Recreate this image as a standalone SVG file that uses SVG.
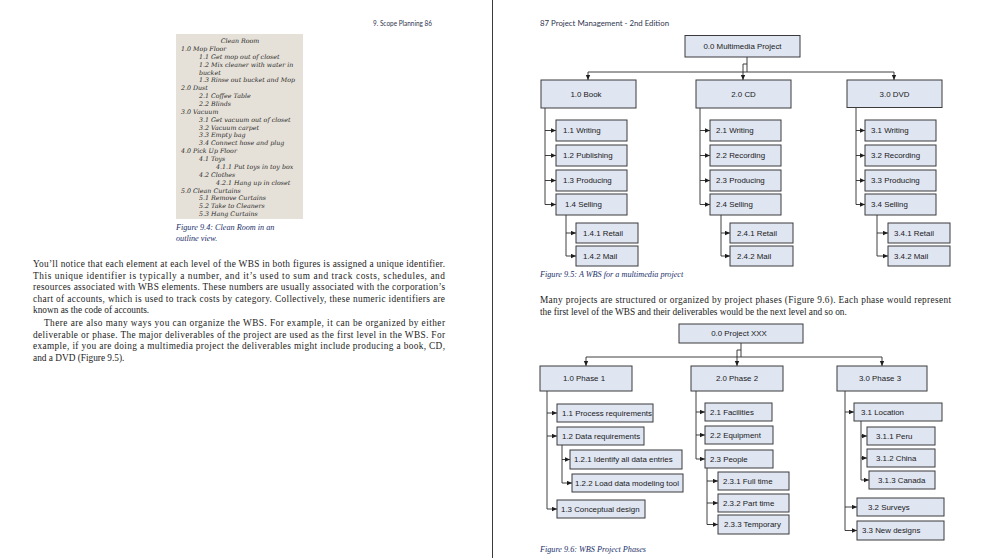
<svg xmlns="http://www.w3.org/2000/svg" width="992" height="558" viewBox="0 0 992 558">
<defs>
<marker id="ah" markerUnits="userSpaceOnUse" markerWidth="6" markerHeight="6" refX="5" refY="2.5" orient="auto">
<path d="M0,0.3 L5,2.5 L0,4.7 z" fill="#1e1e1e"/>
</marker>
<style>
.page{fill:#ffffff}
.hdr{font-family:Lato,"Open Sans",sans-serif;font-size:7.4px;fill:#2f3650}
.body{font-family:"Liberation Serif","Times New Roman",serif;font-size:9.3px;fill:#1c1c1c}
.cap{font-family:"Liberation Serif","Times New Roman",serif;font-style:italic;font-size:8.2px;fill:#22306a}
.hand{font-family:"DejaVu Serif","Liberation Serif",serif;font-style:italic;font-size:6.3px;fill:#2a2a2a}
.box{fill:#dfe5f1;stroke:#3a3a3a;stroke-width:1}
.lbl{font-family:"Liberation Sans",Arial,sans-serif;font-size:7.9px;fill:#1a1a1a}
.mid{text-anchor:middle}
.conn{fill:none;stroke:#2a2a2a;stroke-width:0.9}
.arr{marker-end:url(#ah)}
</style>
</defs>
<rect class="page" x="0" y="0" width="992" height="558"/>
<line x1="492.5" y1="0" x2="492.5" y2="558" stroke="#3a3a3a" stroke-width="1"/>

<!-- LEFT PAGE -->
<text class="hdr" x="373" y="25.5" textLength="59" lengthAdjust="spacingAndGlyphs">9. Scope Planning  86</text>

<g id="fig94">
<rect x="176" y="34" width="127" height="185" fill="#e6e1d8"/>
<text class="hand mid" x="240" y="43">Clean Room</text>
<text class="hand" x="181" y="50.9">1.0 Mop Floor</text>
<text class="hand" x="199" y="58.7">1.1 Get mop out of closet</text>
<text class="hand" x="199" y="66.6">1.2 Mix cleaner with water in</text>
<text class="hand" x="199" y="74.5">bucket</text>
<text class="hand" x="199" y="82.4">1.3 Rinse out bucket and Mop</text>
<text class="hand" x="181" y="90.2">2.0 Dust</text>
<text class="hand" x="199" y="98.1">2.1 Coffee Table</text>
<text class="hand" x="199" y="106">2.2 Blinds</text>
<text class="hand" x="181" y="113.8">3.0 Vacuum</text>
<text class="hand" x="199" y="121.7">3.1 Get vacuum out of closet</text>
<text class="hand" x="199" y="129.6">3.2 Vacuum carpet</text>
<text class="hand" x="199" y="137.4">3.3 Empty bag</text>
<text class="hand" x="199" y="145.3">3.4 Connect hose and plug</text>
<text class="hand" x="181" y="153.2">4.0 Pick Up Floor</text>
<text class="hand" x="199" y="161.1">4.1 Toys</text>
<text class="hand" x="216" y="168.9">4.1.1 Put toys in toy box</text>
<text class="hand" x="199" y="176.8">4.2 Clothes</text>
<text class="hand" x="216" y="184.7">4.2.1 Hang up in closet</text>
<text class="hand" x="181" y="192.5">5.0 Clean Curtains</text>
<text class="hand" x="199" y="200.4">5.1 Remove Curtains</text>
<text class="hand" x="199" y="208.3">5.2 Take to Cleaners</text>
<text class="hand" x="199" y="216.1">5.3 Hang Curtains</text>
</g>
<text class="cap" x="176" y="230">Figure 9.4: Clean Room in an</text>
<text class="cap" x="176" y="241">outline view.</text>

<text class="body" x="33" y="267" textLength="412" lengthAdjust="spacing">You’ll notice that each element at each level of the WBS in both figures is assigned a unique identifier.</text>
<text class="body" x="33" y="278.5" textLength="412" lengthAdjust="spacing">This unique identifier is typically a number, and it’s used to sum and track costs, schedules, and</text>
<text class="body" x="33" y="290" textLength="412" lengthAdjust="spacing">resources associated with WBS elements. These numbers are usually associated with the corporation’s</text>
<text class="body" x="33" y="301.5" textLength="412" lengthAdjust="spacing">chart of accounts, which is used to track costs by category. Collectively, these numeric identifiers are</text>
<text class="body" x="33" y="313">known as the code of accounts.</text>
<text class="body" x="44" y="326" textLength="401" lengthAdjust="spacing">There are also many ways you can organize the WBS. For example, it can be organized by either</text>
<text class="body" x="33" y="337.5" textLength="412" lengthAdjust="spacing">deliverable or phase. The major deliverables of the project are used as the first level in the WBS. For</text>
<text class="body" x="33" y="349" textLength="412" lengthAdjust="spacing">example, if you are doing a multimedia project the deliverables might include producing a book, CD,</text>
<text class="body" x="33" y="360.5">and a DVD (Figure 9.5).</text>

<!-- RIGHT PAGE -->
<text class="hdr" x="540" y="25.5" textLength="129" lengthAdjust="spacingAndGlyphs">87  Project Management - 2nd Edition</text>

<!-- Figure 9.5 connectors -->
<g id="connectors95">
<path class="conn" d="M747,57 V72"/>
<path class="conn" d="M588,72 H894"/>
<path class="conn arr" d="M588,72 V80"/>
<path class="conn arr" d="M894,72 V80"/>
<path class="conn arr" d="M747,64 H743 V80"/>
<path class="conn arr" d="M545,108 V204.5 H556"/>
<path class="conn arr" d="M545,130.5 H556"/>
<path class="conn arr" d="M545,155.5 H556"/>
<path class="conn arr" d="M545,180.5 H556"/>
<path class="conn arr" d="M566,215 V256 H576"/>
<path class="conn arr" d="M566,233 H576"/>
<path class="conn arr" d="M700,108 V204.5 H710"/>
<path class="conn arr" d="M700,130.5 H710"/>
<path class="conn arr" d="M700,155.5 H710"/>
<path class="conn arr" d="M700,180.5 H710"/>
<path class="conn arr" d="M721,215 V256 H730"/>
<path class="conn arr" d="M721,233 H730"/>
<path class="conn arr" d="M856,107 V204.5 H865"/>
<path class="conn arr" d="M856,130.5 H865"/>
<path class="conn arr" d="M856,155.5 H865"/>
<path class="conn arr" d="M856,180.5 H865"/>
<path class="conn arr" d="M877,215 V256 H888"/>
<path class="conn arr" d="M877,233 H888"/>
</g>

<g id="n95_0"><rect class="box" x="685" y="35.5" width="115" height="21.5"/><text class="lbl mid" x="742.5" y="49">0.0 Multimedia Project</text></g>
<g id="n95_1"><rect class="box" x="541" y="80" width="95" height="28"/><text class="lbl mid" x="586" y="97">1.0 Book</text></g>
<g id="n95_2"><rect class="box" x="696" y="80" width="95" height="28"/><text class="lbl mid" x="743.5" y="97">2.0 CD</text></g>
<g id="n95_3"><rect class="box" x="847" y="80" width="95" height="27.5"/><text class="lbl mid" x="894.5" y="97">3.0 DVD</text></g>

<g id="n95_11"><rect class="box" x="556" y="120" width="71" height="21"/><text class="lbl" x="563" y="133.3">1.1 Writing</text></g>
<g id="n95_12"><rect class="box" x="556" y="145" width="71" height="21"/><text class="lbl" x="563" y="158.3">1.2 Publishing</text></g>
<g id="n95_13"><rect class="box" x="556" y="170" width="71" height="21"/><text class="lbl" x="563" y="183.3">1.3 Producing</text></g>
<g id="n95_14"><rect class="box" x="556" y="194" width="71" height="21"/><text class="lbl" x="565" y="207.3">1.4 Selling</text></g>
<g id="n95_141"><rect class="box" x="576" y="223" width="62" height="20"/><text class="lbl" x="583" y="235.8">1.4.1 Retail</text></g>
<g id="n95_142"><rect class="box" x="576" y="246" width="62" height="20"/><text class="lbl" x="583" y="258.8">1.4.2 Mail</text></g>

<g id="n95_21"><rect class="box" x="710" y="120" width="71" height="21"/><text class="lbl" x="716" y="133.3">2.1 Writing</text></g>
<g id="n95_22"><rect class="box" x="710" y="145" width="71" height="21"/><text class="lbl" x="716" y="158.3">2.2 Recording</text></g>
<g id="n95_23"><rect class="box" x="710" y="170" width="71" height="21"/><text class="lbl" x="716" y="183.3">2.3 Producing</text></g>
<g id="n95_24"><rect class="box" x="710" y="194" width="71" height="21"/><text class="lbl" x="716" y="207.3">2.4 Selling</text></g>
<g id="n95_241"><rect class="box" x="730" y="223" width="63" height="20"/><text class="lbl" x="737" y="235.8">2.4.1 Retail</text></g>
<g id="n95_242"><rect class="box" x="730" y="246" width="63" height="20"/><text class="lbl" x="737" y="258.8">2.4.2 Mail</text></g>

<g id="n95_31"><rect class="box" x="865" y="120" width="71" height="21"/><text class="lbl" x="871" y="133.3">3.1 Writing</text></g>
<g id="n95_32"><rect class="box" x="865" y="145" width="71" height="21"/><text class="lbl" x="871" y="158.3">3.2 Recording</text></g>
<g id="n95_33"><rect class="box" x="865" y="170" width="71" height="21"/><text class="lbl" x="871" y="183.3">3.3 Producing</text></g>
<g id="n95_34"><rect class="box" x="865" y="194" width="71" height="21"/><text class="lbl" x="871" y="207.3">3.4 Selling</text></g>
<g id="n95_341"><rect class="box" x="888" y="223" width="62" height="20"/><text class="lbl" x="894" y="235.8">3.4.1 Retail</text></g>
<g id="n95_342"><rect class="box" x="888" y="246" width="62" height="20"/><text class="lbl" x="894" y="258.8">3.4.2 Mail</text></g>

<text class="cap" x="540" y="277">Figure 9.5: A WBS for a multimedia project</text>

<text class="body" x="540" y="303" textLength="411" lengthAdjust="spacing">Many projects are structured or organized by project phases (Figure 9.6). Each phase would represent</text>
<text class="body" x="540" y="314.5">the first level of the WBS and their deliverables would be the next level and so on.</text>

<!-- Figure 9.6 connectors -->
<g id="connectors96">
<path class="conn" d="M741,343 V357"/>
<path class="conn" d="M586,357 H882"/>
<path class="conn arr" d="M586,357 V366"/>
<path class="conn arr" d="M882,357 V366"/>
<path class="conn arr" d="M741,350 H737 V366"/>
<path class="conn arr" d="M547,391 V509 H557"/>
<path class="conn arr" d="M547,413 H557"/>
<path class="conn arr" d="M547,436 H557"/>
<path class="conn arr" d="M562,445 V483 H572"/>
<path class="conn arr" d="M562,459.5 H570"/>
<path class="conn arr" d="M696,391 V459 H705"/>
<path class="conn arr" d="M696,412 H705"/>
<path class="conn arr" d="M696,435 H705"/>
<path class="conn arr" d="M707,468 V524.5 H718"/>
<path class="conn arr" d="M707,481 H718"/>
<path class="conn arr" d="M707,503 H718"/>
<path class="conn arr" d="M845,391 V530.5 H857"/>
<path class="conn arr" d="M845,412 H854"/>
<path class="conn arr" d="M845,507 H857"/>
<path class="conn arr" d="M861,421 V480 H869"/>
<path class="conn arr" d="M861,436 H867"/>
<path class="conn arr" d="M861,458 H867"/>
</g>

<g id="n96_0"><rect class="box" x="679" y="324" width="124" height="19"/><text class="lbl mid" x="739" y="336.3">0.0 Project XXX</text></g>
<g id="n96_1"><rect class="box" x="540" y="366" width="92" height="25"/><text class="lbl mid" x="584" y="381.3">1.0 Phase 1</text></g>
<g id="n96_2"><rect class="box" x="691" y="366" width="92" height="25"/><text class="lbl mid" x="737" y="381.3">2.0 Phase 2</text></g>
<g id="n96_3"><rect class="box" x="837" y="366" width="90" height="25"/><text class="lbl mid" x="880" y="381.3">3.0 Phase 3</text></g>

<g id="n96_11"><rect class="box" x="557" y="404" width="96" height="18"/><text class="lbl" x="562" y="415.8">1.1 Process requirements</text></g>
<g id="n96_12"><rect class="box" x="557" y="427" width="87" height="18"/><text class="lbl" x="562" y="438.8">1.2 Data requirements</text></g>
<g id="n96_121"><rect class="box" x="570" y="450" width="112" height="19"/><text class="lbl" x="574" y="462.3">1.2.1 Identify all data entries</text></g>
<g id="n96_122"><rect class="box" x="572" y="474" width="111" height="18"/><text class="lbl" x="575" y="485.8">1.2.2 Load data modeling tool</text></g>
<g id="n96_13"><rect class="box" x="557" y="500" width="88" height="18"/><text class="lbl" x="561" y="511.8">1.3 Conceptual design</text></g>

<g id="n96_21"><rect class="box" x="705" y="403" width="67" height="18"/><text class="lbl" x="710" y="414.8">2.1 Facilities</text></g>
<g id="n96_22"><rect class="box" x="705" y="426" width="68" height="18"/><text class="lbl" x="710" y="437.8">2.2 Equipment</text></g>
<g id="n96_23"><rect class="box" x="705" y="450" width="68" height="18"/><text class="lbl" x="710" y="461.8">2.3 People</text></g>
<g id="n96_231"><rect class="box" x="718" y="472" width="71" height="18"/><text class="lbl" x="723" y="483.8">2.3.1 Full time</text></g>
<g id="n96_232"><rect class="box" x="718" y="494" width="71" height="18"/><text class="lbl" x="723" y="505.8">2.3.2 Part time</text></g>
<g id="n96_233"><rect class="box" x="718" y="515" width="71" height="19"/><text class="lbl" x="724" y="527.3">2.3.3 Temporary</text></g>

<g id="n96_31"><rect class="box" x="854" y="403" width="88" height="18"/><text class="lbl" x="861" y="414.8">3.1 Location</text></g>
<g id="n96_311"><rect class="box" x="867" y="427" width="68" height="18"/><text class="lbl" x="876" y="438.8">3.1.1 Peru</text></g>
<g id="n96_312"><rect class="box" x="867" y="449" width="68" height="18"/><text class="lbl" x="876" y="460.8">3.1.2 China</text></g>
<g id="n96_313"><rect class="box" x="869" y="471" width="66" height="18"/><text class="lbl" x="878" y="482.8">3.1.3 Canada</text></g>
<g id="n96_32"><rect class="box" x="857" y="498" width="87" height="18"/><text class="lbl" x="868" y="509.8">3.2 Surveys</text></g>
<g id="n96_33"><rect class="box" x="857" y="521" width="87" height="19"/><text class="lbl" x="862" y="533.3">3.3 New designs</text></g>

<text class="cap" x="540" y="551.5">Figure 9.6: WBS Project Phases</text>
</svg>
